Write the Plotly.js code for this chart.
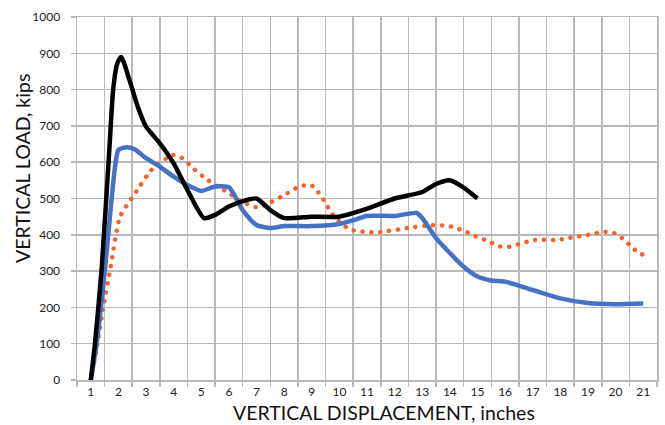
<!DOCTYPE html>
<html>
<head>
<meta charset="utf-8">
<script src="https://cdn.plot.ly/plotly-3.0.1.min.js"></script>
<style>
html,body{margin:0;padding:0;background:#fff;}
#chart{width:665px;height:425px;}
</style>
</head>
<body>
<div id="chart"></div>
<script>
// Displacement (inches) vs vertical load (kips)
const blackX = [1, 1.15, 1.39, 1.67, 1.81, 1.95, 2.1, 2.4, 2.7, 3, 3.5, 4, 4.5, 5.1, 5.5, 6, 6.6, 7, 7.5, 8, 9, 10, 11, 12, 13, 13.5, 14, 14.5, 15];
const blackY = [0, 100, 303, 634, 800, 870, 890, 826, 753, 698, 652, 597, 523, 446, 455, 478, 495, 500, 468, 446, 450, 450, 472, 500, 518, 540, 550, 530, 500];

const blueX = [1, 1.21, 1.51, 1.76, 1.9, 2.0, 2.3, 2.6, 3, 3.5, 4, 4.5, 5, 5.5, 6, 6.5, 7, 7.5, 8, 9, 10, 10.5, 11, 12, 12.8, 13, 13.5, 14, 14.5, 15, 15.5, 16, 17, 18, 19, 20, 21];
const blueY = [0, 101, 303, 505, 600, 634, 641, 635, 611, 588, 560, 537, 521, 533, 531, 468, 427, 419, 424, 424, 430, 440, 452, 452, 460, 446, 391, 350, 312, 285, 274, 271, 248, 225, 212, 209, 211];

const orangeX = [1, 1.24, 1.45, 1.7, 2.06, 2.6, 3.14, 3.38, 3.98, 4.29, 4.71, 5.07, 5.56, 5.92, 6.4, 7.0, 7.3, 7.9, 8.5, 8.8, 9.08, 9.3, 9.5, 9.66, 9.88, 10.08, 10.38, 10.68, 11.05, 11.35, 11.7, 12.0, 12.67, 13.34, 13.67, 13.98, 14.3, 14.6, 14.9, 15.2, 15.5, 15.8, 16.15, 16.48, 16.8, 17.1, 17.77, 18.1, 18.45, 18.77, 19.1, 19.4, 19.74, 20.06, 20.3, 20.56, 20.8, 21];
const orangeY = [0, 100, 200, 303, 450, 514, 574, 592, 620, 612, 583, 560, 534, 519, 494, 476, 482, 505, 531, 537, 533, 510, 488, 466, 445, 430, 415, 410, 408, 406, 410, 413, 421, 426, 426, 424, 417, 408, 397, 388, 378, 368, 367, 374, 381, 386, 386, 388, 393, 397, 401, 406, 408, 402, 386, 369, 352, 345];

const xTitle = "VERTICAL DISPLACEMENT, inches";
const yTitle = "VERTICAL LOAD, kips";

const GRID = "#b9b9b9";
const FONT = "Lato, 'Open Sans', sans-serif";

const traces = [
  {x: orangeX, y: orangeY, mode: "lines", name: "orange", line: {color: "#F4632A", width: 4.5, dash: "0.1px,8.8px", shape: "spline", smoothing: 0.6}},
  {x: blueX, y: blueY, mode: "lines", name: "blue", line: {color: "#4472C4", width: 4.5, shape: "spline", smoothing: 0.6}},
  {x: blackX, y: blackY, mode: "lines", name: "black", line: {color: "#000000", width: 4.5, shape: "spline", smoothing: 0.6}}
];

const layout = {
  width: 665, height: 425,
  margin: {l: 77, r: 8, t: 17, b: 45},
  paper_bgcolor: "#fff", plot_bgcolor: "#fff",
  showlegend: false,
  font: {family: FONT, color: "#222"},
  xaxis: {
    range: [0.5, 21.5], tick0: 1, dtick: 1, showgrid: false, zeroline: false,
    ticks: "", tickfont: {size: 12, family: FONT, color: "#222"},
    showline: true, linecolor: GRID, linewidth: 1.5, mirror: true,
    minor: {tick0: 0.5, dtick: 1, showgrid: true, gridcolor: GRID, gridwidth: 1.5, ticks: "outside", ticklen: 5, tickcolor: GRID, tickwidth: 1.5}
  },
  yaxis: {
    range: [0, 1000], tick0: 0, dtick: 100, showgrid: true, gridcolor: GRID, gridwidth: 1.5,
    zeroline: false, ticks: "outside", ticklen: 5, tickcolor: GRID, tickwidth: 1.5,
    ticklabelstandoff: 8,
    tickfont: {size: 12, family: FONT, color: "#222"},
    showline: true, linecolor: GRID, linewidth: 1.5, mirror: true
  },
  annotations: [
    {text: xTitle, xref: "paper", yref: "paper", x: (384 - 77) / 580, y: -(412 - 380) / 363,
     xanchor: "center", yanchor: "middle", showarrow: false, font: {size: 19.5, family: FONT, color: "#111"}},
    {text: yTitle, xref: "paper", yref: "paper", x: -(77 - 22) / 580, y: (380 - 169) / 363,
     xanchor: "center", yanchor: "middle", textangle: -90, showarrow: false, font: {size: 19.5, family: FONT, color: "#111"}}
  ]
};

Plotly.newPlot("chart", traces, layout, {displayModeBar: false, staticPlot: true}).then(function(){
  const paths = document.querySelectorAll(".scatterlayer .trace path.js-line");
  if (paths.length) paths[0].style.strokeLinecap = "round";
});
</script>
</body>
</html>
